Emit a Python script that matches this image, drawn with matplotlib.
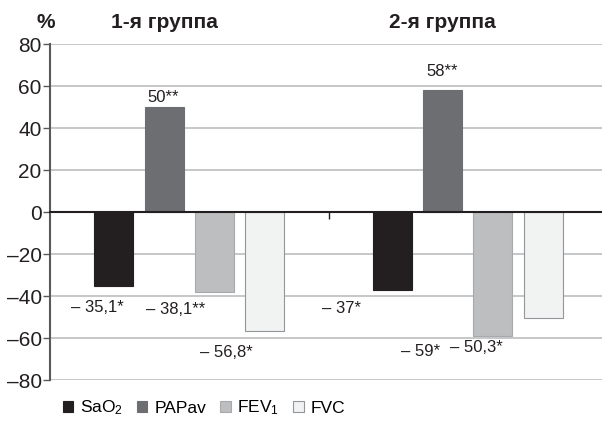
import matplotlib
matplotlib.use('Agg')
import matplotlib.pyplot as plt
import matplotlib.ticker as ticker
import matplotlib.transforms as mtransforms
import numpy as np

plt.rcParams['font.family'] = ['Liberation Sans', 'DejaVu Sans']
plt.rcParams['mathtext.fontset'] = 'custom'
plt.rcParams['mathtext.rm'] = 'Liberation Sans'
plt.rcParams['mathtext.it'] = 'Liberation Sans'

# данные
groups = ['1-я группа', '2-я группа']
params = ['SaO$_2$', 'PAPav', 'FEV$_1$', 'FVC']
sao2 = [-35.1, -37]
papav = [50, 58]
fev1 = [-38.1, -59]
fvc = [-56.8, -50.3]
labels_sao2 = ['– 35,1*', '– 37*']
labels_papav = ['50**', '58**']
labels_fev1 = ['– 38,1**', '– 59*']
labels_fvc = ['– 56,8*', '– 50,3*']

colors = ['#231f20', '#6d6e71', '#bcbec0', '#f1f2f2']
edges = ['#231f20', '#6d6e71', '#a7a9ac', '#939598']

# сдвиги подписей (пиксели): dx от центра столбца, dy от конца столбца
label_dx = [[-16, -51], [-1, 0], [-39, -72], [-38, -67]]
label_dy = [[-22, -19], [10, 19], [-17, -16], [-21, -30]]

fig = plt.figure(figsize=(6.02, 4.26), dpi=100)
ax = fig.add_axes([50 / 602, 46 / 426, 557 / 602, 336 / 426])

centers = np.array([0.5, 1.5])
step = 0.181
width = 0.14
series = [sao2, papav, fev1, fvc]
labels = [labels_sao2, labels_papav, labels_fev1, labels_fvc]

for i, vals in enumerate(series):
    xs = centers + (i - 1.5) * step
    ax.bar(xs, vals, width, color=colors[i], edgecolor=edges[i], linewidth=0.8,
           label=params[i], zorder=3)
    for j, v in enumerate(vals):
        ax.annotate(labels[i][j], (xs[j], v), xytext=(label_dx[i][j], label_dy[i][j]),
                    textcoords='offset pixels', ha='center', va='center',
                    fontsize=12, color='#231f20')

ax.set_xlim(0, 2)
ax.set_ylim(-80, 80)
ax.yaxis.set_major_locator(ticker.MultipleLocator(20))
ax.yaxis.set_major_formatter(ticker.FuncFormatter(
    lambda v, p: ('–' + str(int(-v))) if v < 0 else str(int(v))))
ax.grid(axis='y', color='#bcbec0', linewidth=1.2, zorder=0)
ax.set_xticks([1])
ax.set_xticklabels([])
ax.tick_params(axis='x', direction='out', length=5, width=1, color='#231f20')
ax.tick_params(axis='y', direction='out', length=5, width=1, color='#58595b',
               labelsize=15, labelcolor='#231f20', pad=1)
for s in ['top', 'right']:
    ax.spines[s].set_visible(False)
ax.spines['bottom'].set_position(('data', 0))
ax.spines['bottom'].set_color('#231f20')
ax.spines['bottom'].set_linewidth(1.5)
ax.spines['bottom'].set_zorder(4)
ax.spines['left'].set_color('#58595b')
ax.spines['left'].set_linewidth(1.5)

# заголовки групп
trans = mtransforms.blended_transform_factory(ax.transData, fig.transFigure)
for j, g in enumerate(groups):
    ax.text(centers[j] - 0.5 * step, 1 - 23 / 426, g, transform=trans,
            ha='center', va='center', fontsize=15, fontweight='bold', color='#231f20')
fig.text(46 / 602, 1 - 23 / 426, '%', ha='center', va='center', fontsize=15,
         fontweight='bold', color='#231f20')

fig.legend(loc='center left', bbox_to_anchor=(54 / 602, 1 - 408 / 426), ncol=4,
           frameon=False, fontsize=12.5, handlelength=0.6, handleheight=0.6,
           handletextpad=0.4, columnspacing=0.8, borderpad=0)

fig.savefig('out.png', dpi=100)
